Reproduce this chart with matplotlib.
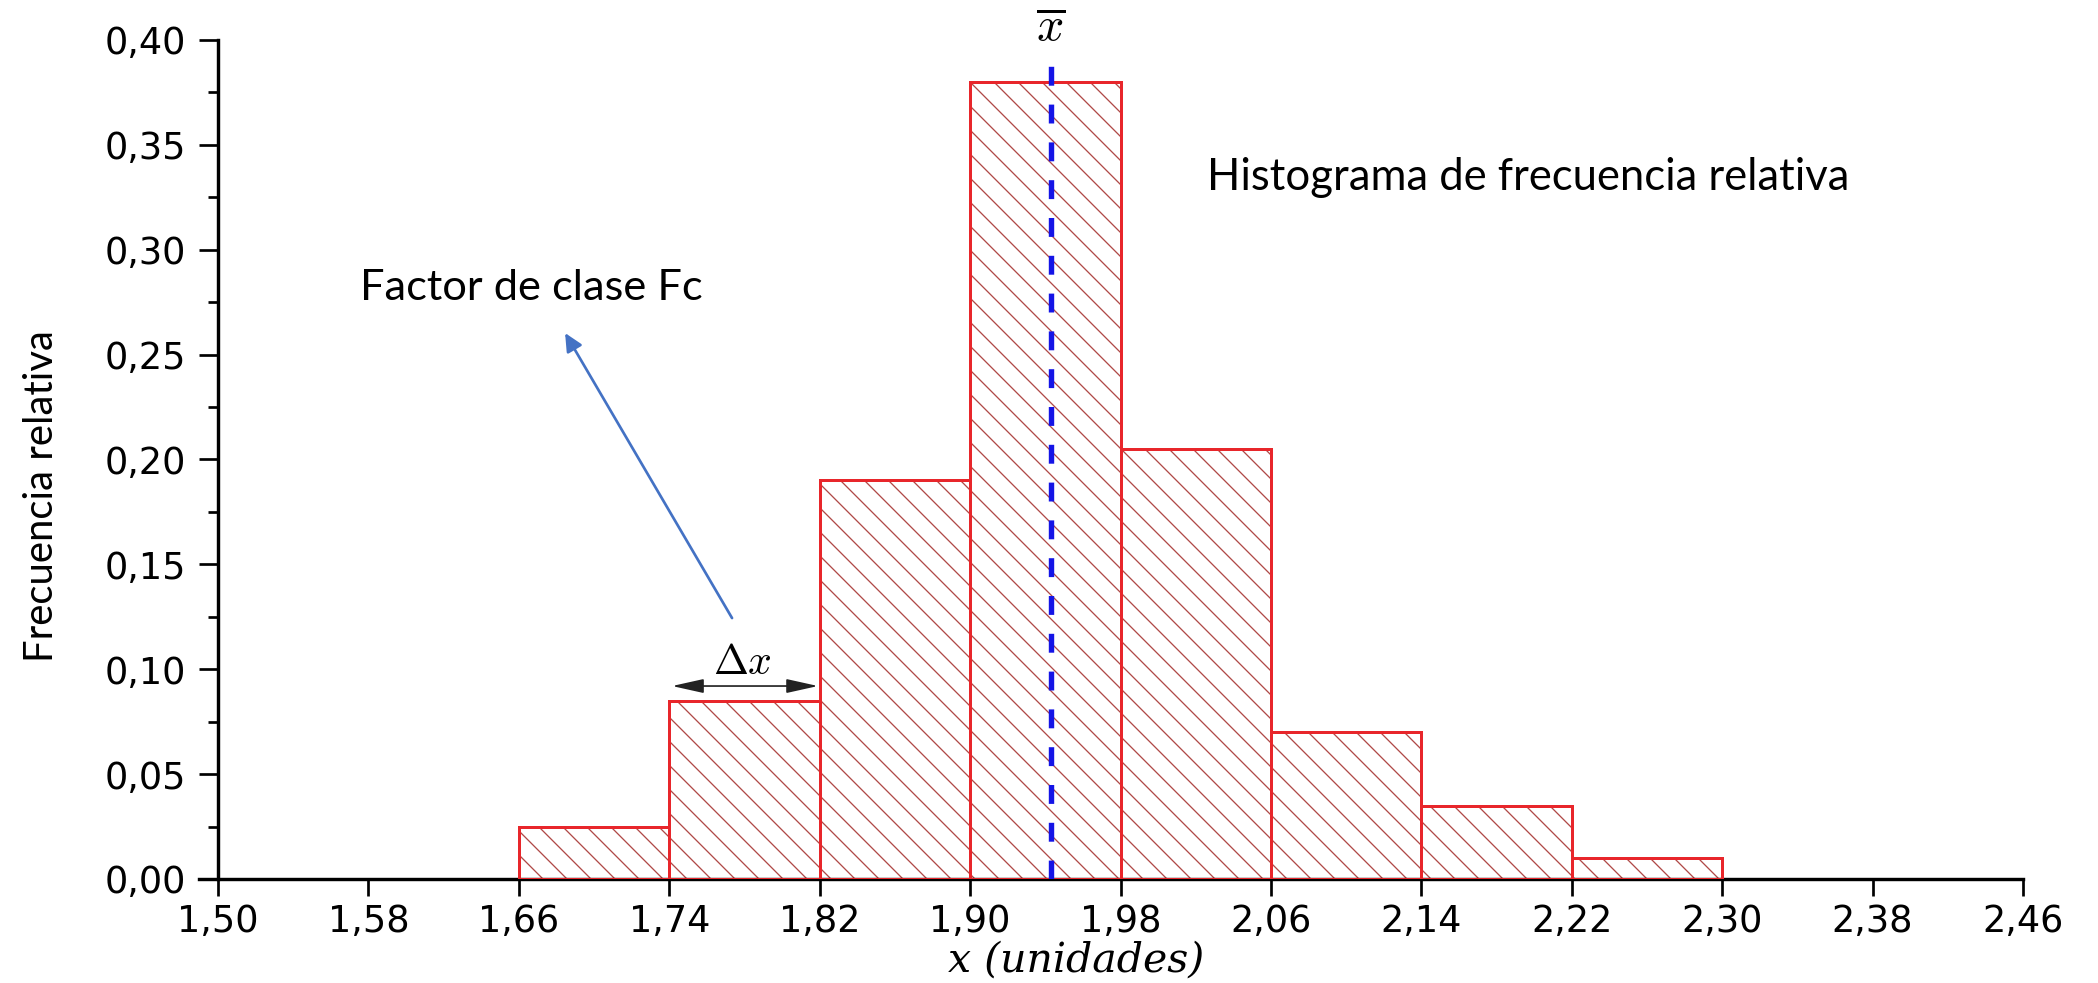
import numpy as np
import matplotlib
matplotlib.use('Agg')
import matplotlib.pyplot as plt
from matplotlib.patches import FancyArrowPatch, ArrowStyle
from matplotlib.ticker import FixedLocator, FuncFormatter

# data
bin_left = [1.66, 1.74, 1.82, 1.90, 1.98, 2.06, 2.14, 2.22]
bin_width = 0.08
rel_freq = [0.025, 0.085, 0.19, 0.38, 0.205, 0.07, 0.035, 0.01]
x_mean = 1.943

x_ticks = [1.50, 1.58, 1.66, 1.74, 1.82, 1.90, 1.98, 2.06, 2.14, 2.22, 2.30, 2.38, 2.46]
y_ticks = [0.00, 0.05, 0.10, 0.15, 0.20, 0.25, 0.30, 0.35, 0.40]
y_minor = [0.025, 0.075, 0.125, 0.175, 0.225, 0.275, 0.325, 0.375]

plt.rcParams['mathtext.fontset'] = 'cm'
plt.rcParams['hatch.linewidth'] = 0.65

DPI = 144
fig = plt.figure(figsize=(2098 / DPI, 983 / DPI), dpi=DPI)
ax = fig.add_axes([0.09495, 0.10580, 0.86930, 0.85351])

# hatching layer, then red outline on top
ax.bar(bin_left, rel_freq, width=bin_width, align='edge', facecolor='white',
       edgecolor='#b04a48', linewidth=0, hatch='\\\\', zorder=2)
ax.bar(bin_left, rel_freq, width=bin_width, align='edge', fill=False,
       edgecolor='#e8262b', linewidth=1.5, zorder=3)

# mean line
ax.plot([x_mean, x_mean], [0, 0.394], color='#1414e6', lw=2.7,
        dashes=(3.5, 3.5), dash_capstyle='butt', zorder=4)
ax.text(x_mean, 0.4062, r'$\overline{x}$', fontsize=24, ha='center',
        va='center', clip_on=False)

# delta x arrow
dx_arrow = FancyArrowPatch((1.7415, 0.092), (1.8191, 0.092),
                           arrowstyle=ArrowStyle('<|-|>', head_length=13.5, head_width=3.0),
                           color='#222222', lw=0.85, mutation_scale=1,
                           shrinkA=0, shrinkB=0, zorder=5)
ax.add_patch(dx_arrow)
ax.text(1.7787, 0.1035, r'$\Delta x$', fontsize=21, ha='center', va='center')

# blue arrow to the label
blue_arrow = FancyArrowPatch((1.7734, 0.1244), (1.6846, 0.2603),
                             arrowstyle=ArrowStyle('-|>', head_length=7.5, head_width=3.6),
                             color='#4472c4', lw=1.35, mutation_scale=1,
                             shrinkA=0, shrinkB=0, zorder=5)
ax.add_patch(blue_arrow)

ax.text(1.5755, 0.282, 'Factor de clase Fc', fontsize=21.7, family='Lato',
        ha='left', va='center')
ax.text(2.026, 0.3345, 'Histograma de frecuencia relativa', fontsize=21.8,
        family='Lato', ha='left', va='center')

# axes styling
ax.set_xlim(1.49, 2.46)
ax.set_ylim(0, 0.40)
ax.spines['top'].set_visible(False)
ax.spines['right'].set_visible(False)
ax.spines['left'].set_position(('data', 1.50))
for s in ['left', 'bottom']:
    ax.spines[s].set_linewidth(1.7)

fmt = FuncFormatter(lambda v, p: f'{v:.2f}'.replace('.', ','))
ax.xaxis.set_major_locator(FixedLocator(x_ticks))
ax.yaxis.set_major_locator(FixedLocator(y_ticks))
ax.yaxis.set_minor_locator(FixedLocator(y_minor))
ax.xaxis.set_major_formatter(fmt)
ax.yaxis.set_major_formatter(fmt)
ax.tick_params(axis='both', which='major', direction='out', width=1.35,
               labelsize=18.3, colors='black')
ax.tick_params(axis='y', which='major', length=9.5, pad=6.5)
ax.tick_params(axis='x', which='major', length=8.3, pad=3.5)
ax.tick_params(axis='y', which='minor', direction='out', length=5, width=1.35)

fig.text(0.513, 0.0115, 'x (unidades)', fontsize=20.5, family='DejaVu Serif',
         style='italic', ha='center', va='baseline')
fig.text(0.02, 0.495, 'Frecuencia relativa', fontsize=20, family='Lato',
         rotation=90, ha='center', va='center')

fig.savefig('out.png', dpi=DPI)
